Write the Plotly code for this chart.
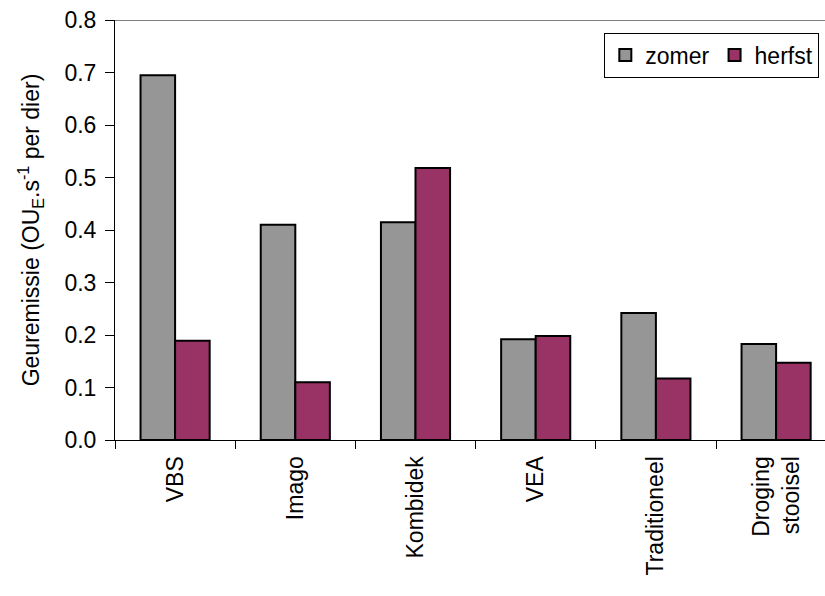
import plotly.graph_objects as go

categories = ["VBS", "Imago", "Kombidek", "VEA", "Traditioneel", "Droging<br>stooisel"]
zomer = [0.695, 0.410, 0.415, 0.192, 0.242, 0.183]
herfst = [0.189, 0.110, 0.518, 0.198, 0.117, 0.147]
y_ticks = [0.0, 0.1, 0.2, 0.3, 0.4, 0.5, 0.6, 0.7, 0.8]

FONT = "Liberation Sans, Arial, sans-serif"
FS = 23

fig = go.Figure()
fig.add_trace(go.Bar(
    x=categories, y=zomer, name="zomer",
    marker=dict(color="#969696", line=dict(color="black", width=2)),
))
fig.add_trace(go.Bar(
    x=categories, y=herfst, name="herfst",
    marker=dict(color="#993366", line=dict(color="black", width=2)),
))

# each category slot is ~120 px; the plot area runs past the right edge
plot_w = 825 - 115
slot = 120.2
fig.update_layout(
    width=825, height=596,
    margin=dict(l=115, r=0, t=20, b=156),
    paper_bgcolor="white", plot_bgcolor="white",
    font=dict(family=FONT, size=FS, color="black"),
    barmode="group", bargap=0.425, bargroupgap=0,
    showlegend=True,
    legend=dict(
        orientation="h", x=0.992, xanchor="right", y=0.97, yanchor="top",
        bordercolor="black", borderwidth=1, bgcolor="white",
        font=dict(family=FONT, size=FS, color="black"),
        itemwidth=30, tracegroupgap=0,
    ),
    xaxis=dict(
        range=[-0.5, -0.5 + plot_w / slot],
        showline=True, linecolor="black", linewidth=1,
        ticks="outside", ticklen=8, tickcolor="black", tickson="boundaries",
        tickangle=-90, showgrid=False, ticklabelstandoff=6,
        tickfont=dict(family=FONT, size=FS, color="black"),
    ),
    yaxis=dict(
        range=[0, 0.8], tickvals=y_ticks, tickformat=".1f",
        showline=True, linecolor="black", linewidth=1,
        ticks="outside", ticklen=9, tickcolor="black",
        ticklabelstandoff=4,
        showgrid=False, zeroline=False,
        tickfont=dict(family=FONT, size=FS, color="black"),
        title=dict(text="Geuremissie (OU<sub>E</sub>.s<sup>-1</sup> per dier)",
                   font=dict(family=FONT, size=FS, color="black"), standoff=18),
    ),
)

# grey frame line along the top of the plot area
fig.add_shape(type="line", xref="paper", yref="y", x0=0, x1=1, y0=0.8, y1=0.8,
              line=dict(color="#808080", width=2))

fig.write_html("out.html")
